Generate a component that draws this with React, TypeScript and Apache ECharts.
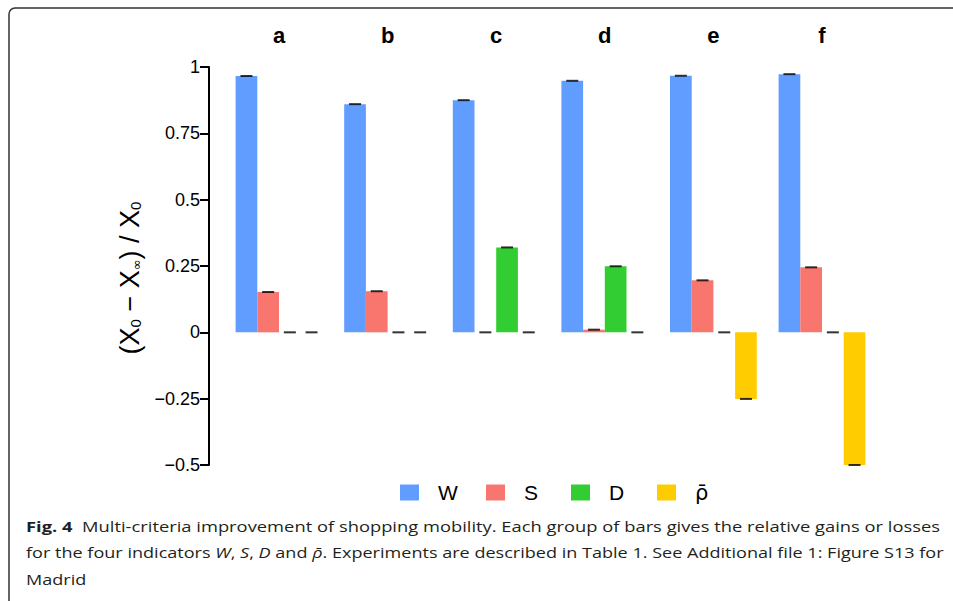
import React, { useEffect, useRef } from "react";
import * as echarts from "echarts";

const categories = ["a", "b", "c", "d", "e", "f"];
const seriesNames = ["W", "S", "D", "ρ̄"];
const valuesW = [0.966, 0.86, 0.875, 0.948, 0.967, 0.973];
const valuesS = [0.152, 0.155, 0.0, 0.01, 0.196, 0.245];
const valuesD = [0.0, 0.0, 0.32, 0.249, 0.0, 0.0];
const valuesRho = [0.0, 0.0, 0.0, 0.0, -0.251, -0.5];
const seriesColors = ["#619CFF", "#F8766D", "#32CD32", "#FFCC00"];

const captionLine1Bold = "Fig. 4";
const captionLine1 = "  Multi-criteria improvement of shopping mobility. Each group of bars gives the relative gains or losses";
const captionLine2Parts: [string, boolean][] = [
  ["for the four indicators ", false],
  ["W", true],
  [", ", false],
  ["S", true],
  [", ", false],
  ["D", true],
  [" and ", false],
  ["ρ̄", true],
  [". Experiments are described in Table 1. See Additional file 1: Figure S13 for", false],
];
const captionLine3 = "Madrid";

export default function App() {
  const ref = useRef<HTMLDivElement>(null);
  useEffect(() => {
    const chart = echarts.init(ref.current!, null, { renderer: "svg" });
    const ctx = document.createElement("canvas").getContext("2d")!;
    const fam = "'Open Sans', 'Noto Sans', sans-serif";
    const fs = 15;
    const measure = (t: string, w: string, st: string) => {
      ctx.font = `${st} ${w} ${fs}px ${fam}`;
      return ctx.measureText(t).width;
    };
    const w1 = measure(captionLine1Bold, "bold", "normal") + measure(captionLine1, "normal", "normal");
    const w2 = captionLine2Parts.reduce((s, [t, it]) => s + measure(t, "normal", it ? "italic" : "normal"), 0);
    const left = 26;
    const scale1 = (940 - left) / w1;
    const scale2 = (944 - left) / w2;
    const line2Text = captionLine2Parts.map(([t, it]) => (it ? `{i|${t}}` : `{r|${t}}`)).join("");
    const capColor = "#231f20";
    const richBase = {
      r: { fontSize: fs, fontFamily: fam, color: capColor },
      b: { fontSize: fs, fontFamily: fam, fontWeight: "bold", color: capColor },
      i: { fontSize: fs, fontFamily: fam, fontStyle: "italic", color: capColor },
    };

    const offsets = [-1.5, -0.5, 0.5, 1.5];
    const barW = 21.7;
    const allValues = [valuesW, valuesS, valuesD, valuesRho];
    const arial = "'Liberation Sans', Arial, sans-serif";

    const barSeries = allValues.map((vals, i) => ({
      name: seriesNames[i],
      type: "bar",
      data: vals,
      barWidth: barW,
      barGap: "0%",
      itemStyle: { color: seriesColors[i] },
      z: 2,
    }));
    const errSeries = allValues.map((vals, i) => ({
      name: seriesNames[i] + " err",
      type: "scatter",
      data: vals,
      symbol: "rect",
      symbolSize: [12, 2],
      symbolOffset: [offsets[i] * barW, 0],
      itemStyle: { color: "#000" },
      z: 5,
      silent: true,
    }));

    const legendLefts = [395, 481, 566, 652];
    const legends = seriesNames.map((n, i) => ({
      data: [n],
      left: legendLefts[i],
      top: 477,
      itemWidth: 19,
      itemHeight: 16,
      icon: "rect",
      selectedMode: false,
      textStyle: {
        fontSize: 21,
        color: "#000",
        fontFamily: n === "ρ̄" ? "'DejaVu Sans', sans-serif" : arial,
        padding: [0, 0, 0, 14],
      },
    }));

    chart.setOption({
      animation: false,
      backgroundColor: "#fff",
      grid: { left: 224.7, right: 76.7, top: 67, bottom: 136, containLabel: false },
      xAxis: {
        type: "category",
        data: categories,
        position: "top",
        axisLine: { show: false },
        axisTick: { show: false },
        axisLabel: {
          fontSize: 22,
          fontWeight: "bold",
          color: "#000",
          fontFamily: arial,
          margin: 21,
        },
      },
      yAxis: {
        type: "value",
        min: -0.5,
        max: 1,
        interval: 0.25,
        offset: 15.7,
        splitLine: { show: false },
        axisLine: { show: true, lineStyle: { color: "#000", width: 2 } },
        axisTick: { show: true, length: 9, lineStyle: { color: "#000", width: 2 } },
        axisLabel: {
          fontSize: 18,
          color: "#000",
          fontFamily: arial,
          margin: 9,
          formatter: (v: number) => String(v).replace("-", "−"),
        },
        name: "{a|(X}{s|0}{a| − X}{t|∞}{a|) / X}{s|0}",
        nameLocation: "middle",
        nameGap: 66,
        nameRotate: 90,
        nameTextStyle: {
          fontFamily: arial,
          color: "#000",
          padding: [0, 24, 0, 0],
          rich: {
            a: { fontSize: 27, fontFamily: arial, color: "#000" },
            s: { fontSize: 15, lineHeight: 10, verticalAlign: "bottom", fontFamily: arial, color: "#000" },
            t: { fontSize: 13, lineHeight: 10, verticalAlign: "bottom", fontFamily: "'DejaVu Sans', sans-serif", color: "#000" },
          },
        },
      },
      legend: legends,
      series: [...barSeries, ...errSeries],
      graphic: [
        {
          type: "rect",
          shape: { x: 9, y: 8, width: 1000, height: 700, r: 6 },
          style: { fill: "none", stroke: "#333", lineWidth: 1.5 },
          silent: true,
          z: 10,
        },
        {
          type: "text",
          x: left,
          y: 526,
          scaleX: scale1,
          style: {
            text: `{b|${captionLine1Bold}}{r|${captionLine1}}`,
            rich: richBase,
            fontSize: fs,
            fontFamily: fam,
            fill: capColor,
            verticalAlign: "middle",
          },
        },
        {
          type: "text",
          x: left,
          y: 552.5,
          scaleX: scale2,
          style: {
            text: line2Text,
            rich: richBase,
            fontSize: fs,
            fontFamily: fam,
            fill: capColor,
            verticalAlign: "middle",
          },
        },
        {
          type: "text",
          x: left,
          y: 579,
          scaleX: scale2,
          style: {
            text: captionLine3,
            fontSize: fs,
            fontFamily: fam,
            fill: capColor,
            verticalAlign: "middle",
          },
        },
      ],
    });
    return () => chart.dispose();
  }, []);
  return <div ref={ref} style={{ position: "absolute", left: 0, top: 0, width: 953, height: 601 }} />;
}
